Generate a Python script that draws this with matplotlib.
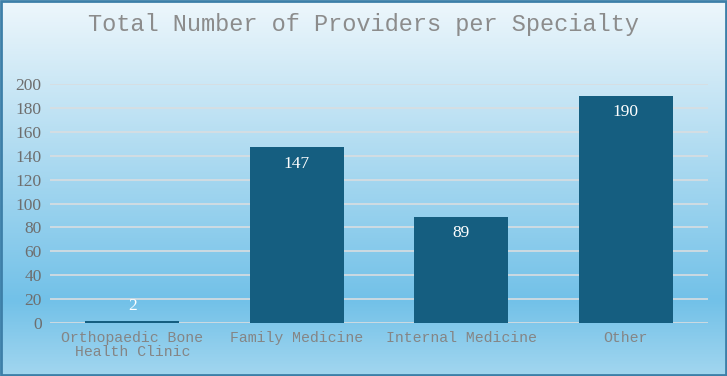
import numpy as np
import matplotlib.pyplot as plt
from matplotlib.colors import LinearSegmentedColormap
from matplotlib.patches import Rectangle

categories = ["Orthopaedic Bone\nHealth Clinic", "Family Medicine", "Internal Medicine", "Other"]
providers = [2, 147, 89, 190]
y_ticks = list(range(0, 201, 20))

fig = plt.figure(figsize=(7.27, 3.76), dpi=100)

# background gradient (top light -> saturated blue -> slightly lighter at bottom)
bg = fig.add_axes([0, 0, 1, 1], zorder=-10)
grad_cmap = LinearSegmentedColormap.from_list(
    "bg", [(0.0, "#eef7fc"), (0.2, "#cfe9f6"), (0.8, "#72c1e8"), (1.0, "#a2d6ef")])
grad = np.linspace(0, 1, 256).reshape(-1, 1)
bg.imshow(grad, aspect="auto", cmap=grad_cmap, extent=[0, 1, 0, 1], origin="upper")
bg.axis("off")
fig.add_artist(Rectangle((0.001, 0.002), 0.997, 0.995, transform=fig.transFigure,
                         fill=False, edgecolor="#3d7fa8", linewidth=2))

ax = fig.add_axes([50 / 727, 1 - 323 / 376, 658 / 727, 239 / 376])
ax.patch.set_alpha(0)
x = np.arange(len(categories))
bars = ax.bar(x, providers, width=0.57, color="#155e80", zorder=3)

ax.set_xlim(-0.5, len(categories) - 0.5)
ax.set_ylim(0, 200)
ax.set_yticks(y_ticks)
ax.set_yticklabels([str(v) for v in y_ticks], family="Liberation Serif", fontsize=12.5, color="#6e6e6e")
ax.set_xticks(x)
ax.set_xticklabels(categories, family="Liberation Mono", fontsize=10.7, color="#858585", linespacing=1.0)
ax.tick_params(length=0, pad=6)
ax.grid(axis="y", color="#d9dde0", linewidth=1.2, zorder=1)
for s in ax.spines.values():
    s.set_visible(False)

for b, v in zip(bars, providers):
    cx = b.get_x() + b.get_width() / 2
    if v < 15:
        ax.annotate(str(v), (cx, v), xytext=(0, 5), textcoords="offset points",
                    ha="center", va="bottom", color="white", fontsize=12.5, family="Liberation Serif")
    else:
        ax.annotate(str(v), (cx, v), xytext=(0, -6), textcoords="offset points",
                    ha="center", va="top", color="white", fontsize=12.5, family="Liberation Serif")

fig.text(0.5, 1 - 24 / 376, "Total Number of Providers per Specialty", ha="center", va="center",
         family="Liberation Mono", fontsize=17, color="#8c8c8c")

fig.savefig("out.png", dpi=100)
